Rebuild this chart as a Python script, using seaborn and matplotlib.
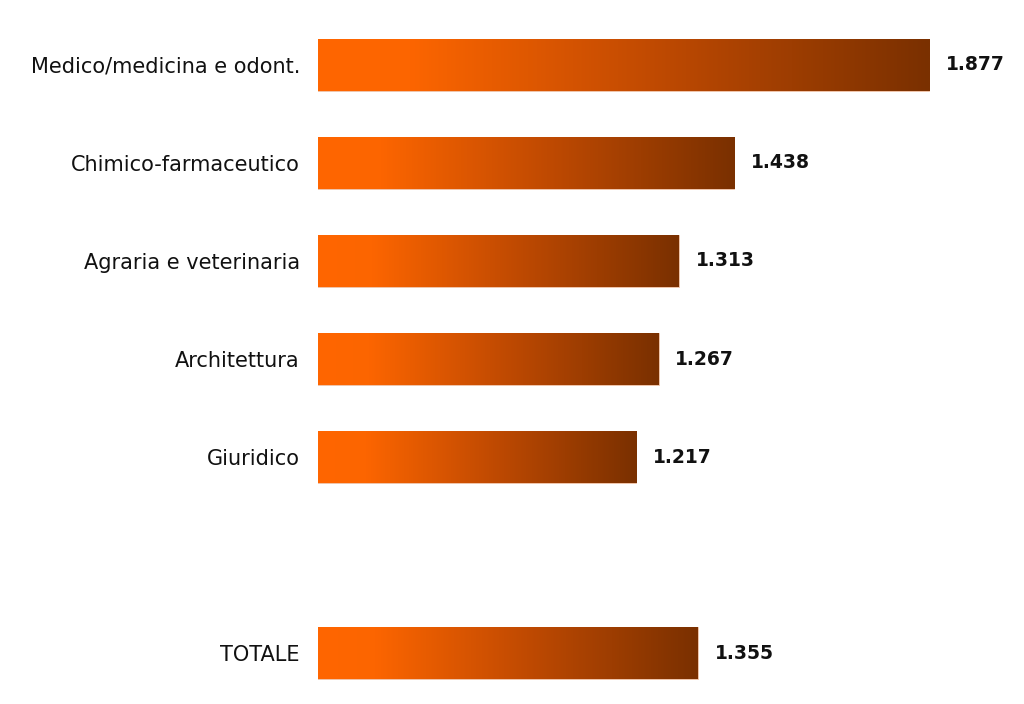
import numpy as np
import pandas as pd
import matplotlib
matplotlib.use("Agg")
import matplotlib.pyplot as plt
import seaborn as sns
from matplotlib.colors import LinearSegmentedColormap

categories = ["Medico/medicina e odont.", "Chimico-farmaceutico", "Agraria e veterinaria",
              "Architettura", "Giuridico", "TOTALE"]
values = [1877, 1438, 1313, 1267, 1217, 1355]
value_labels = ["1.877", "1.438", "1.313", "1.267", "1.217", "1.355"]

sns.set_theme(style="white")
plt.rcParams['font.family'] = ['DejaVu Sans']

df = pd.DataFrame({"cat": categories, "val": values})
order = categories[:5] + [" "] + ["TOTALE"]

fig = plt.figure(figsize=(10.24, 7.04), dpi=100)
ax = fig.add_axes([318/1024, 0, (1000-318)/1024, 1])

sns.barplot(data=df, y="cat", x="val", order=order, color="#FF6600", width=0.53,
            ax=ax, orient="h")

x0 = 500
ax.set_xlim(x0, x0 + (1000-318)/0.444)
ax.set_ylim(6.52, -0.663)

cmap = LinearSegmentedColormap.from_list(
    "g", [(0, "#FF6600"), (0.15, "#FC6500"), (0.55, "#C04A02"), (1.0, "#7A3000")])
grad = np.linspace(0, 1, 256).reshape(1, -1)

for p in ax.patches:
    w = p.get_width()
    if w <= 0 or np.isnan(w):
        continue
    x, y, h = p.get_x(), p.get_y(), p.get_height()
    xs = max(x, x0)
    im = ax.imshow(grad, cmap=cmap, aspect="auto", extent=(xs, x + w, y + h, y),
                   zorder=p.get_zorder() + 0.1, interpolation="bilinear")
    im.set_clip_path(p)
    p.set_edgecolor("#F0C8B0")
    p.set_linewidth(0.6)

ypos = [0, 1, 2, 3, 4, 6]
for yp, v, lab in zip(ypos, values, value_labels):
    ax.text(v + 38, yp, lab, va="center", ha="left", fontsize=13.5, fontweight="bold",
            color="#111111")

ax.set_xlabel("")
ax.set_ylabel("")
ax.set_xticks([])
ax.tick_params(axis="y", length=0, pad=13, labelsize=15)
for s in ax.spines.values():
    s.set_visible(False)
for t in ax.get_yticklabels():
    t.set_color("#111111")

fig.savefig("out.png", dpi=100)
